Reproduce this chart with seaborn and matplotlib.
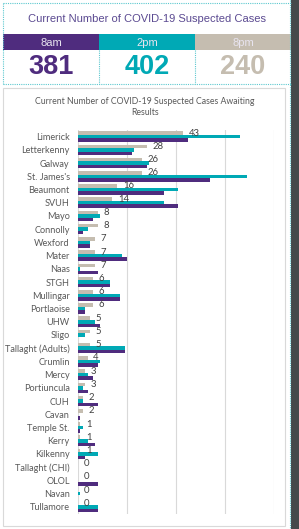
import matplotlib
matplotlib.use("Agg")
import matplotlib.pyplot as plt
from matplotlib.patches import Rectangle
from matplotlib.lines import Line2D
import seaborn as sns
import pandas as pd

hospitals = ["Limerick", "Letterkenny", "Galway", "St. James's", "Beaumont", "SVUH",
             "Mayo", "Connolly", "Wexford", "Mater", "Naas", "STGH", "Mullingar",
             "Portlaoise", "UHW", "Sligo", "Tallaght (Adults)", "Crumlin", "Mercy",
             "Portiuncula", "CUH", "Cavan", "Temple St.", "Kerry", "Kilkenny",
             "Tallaght (CHI)", "OLOL", "Navan", "Tullamore"]
pm8 = [43, 28, 26, 26, 16, 14, 8, 8, 7, 7, 7, 6, 6, 6, 5, 5, 5, 4, 3, 3, 2, 2, 1, 1, 1, 0, 0, 0, 0]
pm2 = [66, 23, 29, 69, 41, 35, 9, 4, 5, 18, 1, 13, 17, 3, 7, 3, 19, 9, 4, 2, 2, 0, 2, 4, 8, 0, 0, 1, 8]
am8 = [45, 22, 28, 54, 35, 41, 6, 2, 5, 20, 8, 13, 17, 3, 9, 0, 19, 8, 6, 4, 8, 1, 1, 7, 3, 0, 8, 0, 8]

times = ["8am", "2pm", "8pm"]
totals = [381, 402, 240]

PURPLE = "#4f2c7e"
TEAL = "#00a9b5"
BEIGE = "#c5bdb0"
colors = [PURPLE, TEAL, BEIGE]

W, H = 299, 529
fig = plt.figure(figsize=(W / 100, H / 100), dpi=100)
fig.patch.set_facecolor("white")


def fx(x):
    return x / W


def fy(y):
    return 1 - y / H


def rect(x0, y0, x1, y1, **kw):
    fig.add_artist(Rectangle((fx(x0), fy(y1)), fx(x1) - fx(x0), fy(y0) - fy(y1),
                             transform=fig.transFigure, zorder=-1, **kw))


def dline(xs, ys, **kw):
    fig.add_artist(Line2D([fx(x) for x in xs], [fy(y) for y in ys],
                          transform=fig.transFigure, color="#5cc8cf", lw=0.8,
                          linestyle=(0, (1, 1)), **kw))


# dark strip on the right
rect(291, 0, 299, 529, facecolor="#45494b", edgecolor="none")
dline([289.5, 289.5], [0, 529])

# top summary panel
dline([3, 291], [3, 3])
dline([3, 291], [84, 84])
dline([3, 3], [3, 84])
fig.text(fx(147), fy(19), "Current Number of COVID-19 Suspected Cases", ha="center",
         va="center", fontsize=8, color="#5b4a91", family="Liberation Sans")
edges = [3, 99, 195, 291]
for i, (t, n, c) in enumerate(zip(times, totals, colors)):
    x0, x1 = edges[i], edges[i + 1]
    rect(x0, 34, x1, 50, facecolor=c, edgecolor="none")
    xc = (x0 + x1) / 2
    fig.text(fx(xc), fy(42.5), t, ha="center", va="center", fontsize=8,
             color="#e8e4ef", family="Liberation Sans")
    fig.text(fx(xc), fy(67), str(n), ha="center", va="center", fontsize=19.5,
             fontweight="bold", color=c, family="Liberation Sans")
for x in [99, 195]:
    dline([x, x], [50, 84])

# chart panel
rect(3, 88.5, 284.5, 525.5, facecolor="white", edgecolor="#d9d9d9", lw=0.8)
fig.text(fx(145), fy(107), "Current Number of COVID-19 Suspected Cases Awaiting\nResults",
         ha="center", va="center", fontsize=6.3, color="#595959", family="Lato",
         linespacing=1.35)

df = pd.DataFrame({
    "hospital": hospitals * 3,
    "value": pm8 + pm2 + am8,
    "time": ["8pm"] * len(hospitals) + ["2pm"] * len(hospitals) + ["8am"] * len(hospitals),
})

ax = fig.add_axes([fx(78), fy(513.5), fx(274) - fx(78), fy(130) - fy(513.5)])
ax.set_zorder(5)
sns.barplot(data=df, y="hospital", x="value", hue="time", hue_order=["8pm", "2pm", "8am"],
            palette=[BEIGE, TEAL, PURPLE], orient="h", width=0.8, legend=False,
            order=hospitals, ax=ax, saturation=1, errorbar=None)
ax.set_xlim(0, 80)
ax.set_xticks([0, 20, 40, 60, 80])
ax.set_xticklabels([])
ax.xaxis.grid(True, color="#d9d9d9", lw=0.8)
ax.yaxis.grid(False)
ax.set_axisbelow(True)
for s in ax.spines.values():
    s.set_visible(False)
ax.tick_params(axis="both", length=0)
ax.tick_params(axis="y", pad=6, labelsize=6.6, labelcolor="#595959")
for lab in ax.get_yticklabels():
    lab.set_family("Lato")
ax.set_xlabel("")
ax.set_ylabel("")
ax.set_facecolor("none")
ax.bar_label(ax.containers[0], labels=[str(v) for v in pm8], padding=4,
             fontsize=6.8, color="#404040", family="Lato")

fig.savefig("out.png", dpi=100, facecolor="white")
